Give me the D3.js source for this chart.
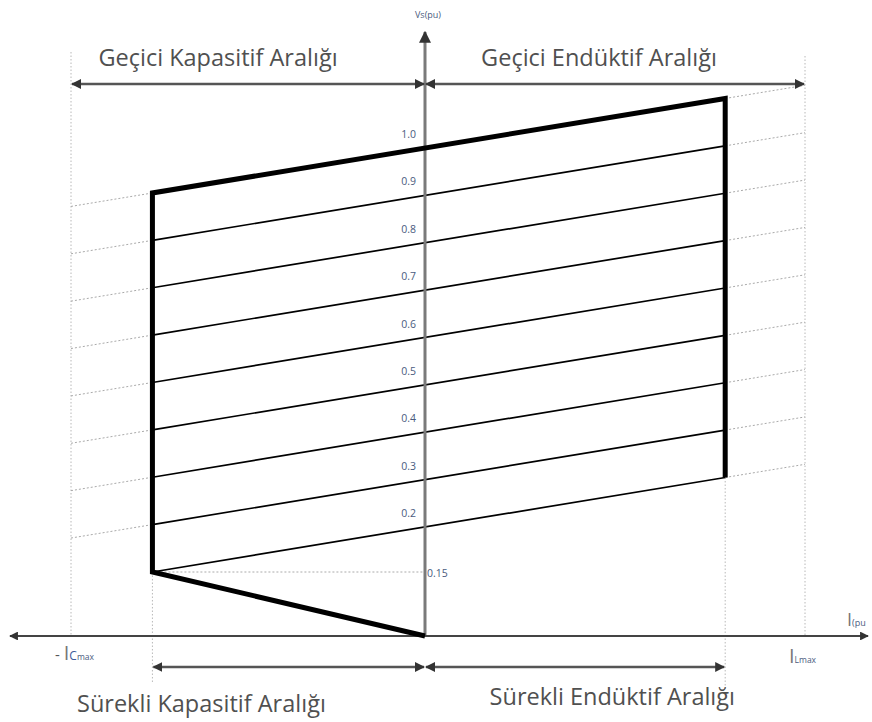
<!DOCTYPE html>
<html>
<head>
<meta charset="utf-8">
<script src="https://d3js.org/d3.v7.min.js"></script>
<style>
    body { margin: 0; background: #fff; }
    text { font-family: "Open Sans", "DejaVu Sans", sans-serif; }
    .range-text { font-size: 23.5px; fill: #505050; }
    .level-text { font-size: 10.5px; fill: #4a5b7e; }
</style>
</head>
<body>
<svg id="vis"></svg>
<script>
    // voltage levels (pu) of the constant-voltage lines, top one is the 1.0 limit
    var levels = [1.0, 0.9, 0.8, 0.7, 0.6, 0.5, 0.4, 0.3, 0.2];
    var levelLabels = ["1.0", "0.9", "0.8", "0.7", "0.6", "0.5", "0.4", "0.3", "0.2"];
    // levels that get a dotted extension out to the transient limits
    var leftExt = [1.0, 0.9, 0.8, 0.7, 0.6, 0.5, 0.4, 0.3];
    var rightExt = [1.0, 0.9, 0.8, 0.7, 0.6, 0.5, 0.4, 0.3, 0.2];
    // current limits (pu)
    var iCmax = -1, iLmax = 1;      // transient
    var iCont = [-0.77, 0.79];      // continuous capacitive / inductive
    var vMin = 0.15, vLow = 0.2, vTop = 1.0;
    var rangeTexts = {
        topLeft: "Geçici Kapasitif Aralığı",
        topRight: "Geçici Endüktif Aralığı",
        botLeft: "Sürekli Kapasitif Aralığı",
        botRight: "Sürekli Endüktif Aralığı"
    };

    var width = 872, height = 722;
    var svg = d3.select("#vis").attr("width", width).attr("height", height);

    var x = d3.scaleLinear().domain([iCmax, 0, iLmax]).range([71, 425, 805]);
    var y = d3.scaleLinear().domain([0, vMin, vLow, vTop]).range([636, 572, 527, 148]);
    var tilt = 0.165; // droop of the lines in px per px
    var yAt = function (v, i) { return y(v) - tilt * (x(i) - x(0)); };

    var defs = svg.append("defs");
    function marker(id, color, orient) {
        defs.append("marker")
            .attr("id", id)
            .attr("viewBox", "0 0 10 10")
            .attr("refX", 9).attr("refY", 5)
            .attr("markerWidth", 4).attr("markerHeight", 4)
            .attr("markerUnits", "strokeWidth")
            .attr("orient", orient)
            .append("path")
            .attr("d", "M0,0 L10,5 L0,10 Z")
            .attr("fill", color);
    }
    marker("arr", "#333", "auto");
    marker("arr2", "#333", "auto-start-reverse");

    var line = d3.line();

    // vertical dotted guides
    var guides = [
        { i: iCmax, y0: 52, y1: 636 },
        { i: iLmax, y0: 56, y1: 636 },
        { i: iCont[0], y0: yAt(vLow, iCont[0]), y1: 682 },
        { i: iCont[1], y0: yAt(vLow, iCont[1]), y1: 690 }
    ];
    svg.append("g").selectAll("line").data(guides).enter().append("line")
        .attr("x1", d => x(d.i)).attr("x2", d => x(d.i))
        .attr("y1", d => d.y0).attr("y2", d => d.y1)
        .attr("stroke", "#b8b8b8").attr("stroke-width", 1)
        .attr("stroke-dasharray", "1.5,2");

    // dotted extensions of the voltage lines
    var ext = svg.append("g").attr("stroke", "#aaa").attr("stroke-width", 1)
        .attr("stroke-dasharray", "2,2").attr("fill", "none");
    ext.selectAll(".l").data(leftExt).enter().append("path")
        .attr("d", v => line([[x(iCmax), yAt(v, iCmax)], [x(iCont[0]), yAt(v, iCont[0])]]));
    ext.selectAll(".r").data(rightExt).enter().append("path")
        .attr("d", v => line([[x(iCont[1]), yAt(v, iCont[1])], [x(iLmax), yAt(v, iLmax)]]));
    // 0.15 horizontal
    ext.append("path")
        .attr("d", line([[x(iCont[0]), y(vMin)], [x(0), y(vMin)]]));

    // thin constant-voltage lines
    svg.append("g").selectAll("path").data(levels.slice(1)).enter().append("path")
        .attr("d", v => line([[x(iCont[0]), yAt(v, iCont[0])], [x(iCont[1]), yAt(v, iCont[1])]]))
        .attr("stroke", "#000").attr("stroke-width", 1.7).attr("fill", "none");

    // axes
    svg.append("path")
        .attr("d", line([[x(0), y(0)], [x(0), 32]]))
        .attr("stroke", "#7a7a7a").attr("stroke-width", 3)
        .attr("marker-end", "url(#arr)");
    svg.append("path")
        .attr("d", line([[10, y(0)], [868, y(0)]]))
        .attr("stroke", "#444").attr("stroke-width", 2.2)
        .attr("marker-start", "url(#arr2)").attr("marker-end", "url(#arr)");

    // range arrows
    var ranges = [
        [iCmax, 0, 84], [0, iLmax, 84],
        [iCont[0], 0, 667], [0, iCont[1], 667]
    ];
    svg.append("g").selectAll("path").data(ranges).enter().append("path")
        .attr("d", d => line([[x(d[0]) + 1, d[2]], [x(d[1]) - 1, d[2]]]))
        .attr("stroke", "#555").attr("stroke-width", 2.5)
        .attr("marker-start", "url(#arr2)").attr("marker-end", "url(#arr)");

    // thick operating boundary
    var boundary = [
        [x(0), y(0)],
        [x(iCont[0]), yAt(vLow, iCont[0])],
        [x(iCont[0]), yAt(vTop, iCont[0])],
        [x(iCont[1]), yAt(vTop, iCont[1])],
        [x(iCont[1]), yAt(vLow, iCont[1])]
    ];
    svg.append("path")
        .attr("d", line(boundary))
        .attr("stroke", "#000").attr("stroke-width", 5)
        .attr("stroke-linejoin", "miter").attr("fill", "none");

    // level labels
    svg.append("g").selectAll("text").data(levels).enter().append("text")
        .attr("class", "level-text")
        .attr("x", x(0) - 9).attr("y", v => y(v) - 10)
        .attr("text-anchor", "end")
        .text((v, k) => levelLabels[k]);
    svg.append("text").attr("class", "level-text")
        .attr("x", x(0) + 2).attr("y", y(vMin) + 5)
        .text("0.15");

    // axis titles
    svg.append("text").attr("class", "level-text")
        .attr("x", x(0) + 3).attr("y", 18).attr("text-anchor", "middle")
        .style("font-size", "9px")
        .text("Vs(pu)");

    var iPu = svg.append("text").attr("x", x(iLmax) + 42).attr("y", 626);
    iPu.append("tspan").style("font-size", "18px").attr("fill", "#777").text("I");
    iPu.append("tspan").style("font-size", "9px").attr("fill", "#4a5b7e").text("(pu");

    var ic = svg.append("text").attr("x", x(iCmax) - 16).attr("y", 660);
    ic.append("tspan").style("font-size", "15px").attr("fill", "#555").text("- ");
    ic.append("tspan").style("font-size", "20px").attr("fill", "#777").text("I");
    ic.append("tspan").style("font-size", "12px").attr("fill", "#3b5a9a").text("C");
    ic.append("tspan").style("font-size", "8.5px").attr("fill", "#4a5b7e").text("max");

    var il = svg.append("text").attr("x", x(iLmax) - 16).attr("y", 663);
    il.append("tspan").style("font-size", "20px").attr("fill", "#777").text("I");
    il.append("tspan").style("font-size", "8.5px").attr("fill", "#4a5b7e").text("Lmax");

    // range titles
    svg.append("text").attr("class", "range-text")
        .attr("x", 218).attr("y", 66).attr("text-anchor", "middle")
        .text(rangeTexts.topLeft);
    svg.append("text").attr("class", "range-text")
        .attr("x", 599).attr("y", 66).attr("text-anchor", "middle")
        .text(rangeTexts.topRight);
    svg.append("text").attr("class", "range-text")
        .attr("x", 77).attr("y", 712)
        .text(rangeTexts.botLeft);
    svg.append("text").attr("class", "range-text")
        .attr("x", 735).attr("y", 705).attr("text-anchor", "end")
        .text(rangeTexts.botRight);
</script>
</body>
</html>
